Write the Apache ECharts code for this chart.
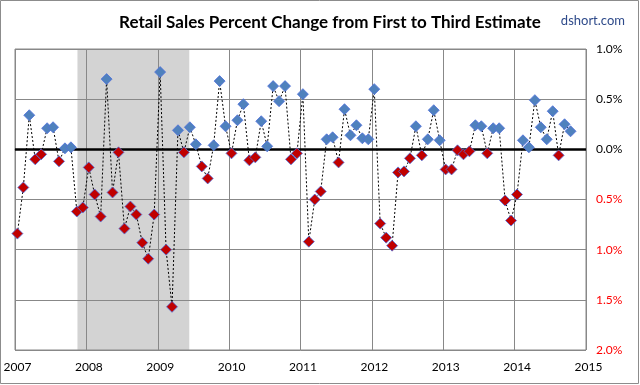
<!DOCTYPE html>
<html>
<head>
<meta charset="utf-8">
<script src="https://cdn.jsdelivr.net/npm/echarts@6/dist/echarts.min.js"></script>
<style>
html,body{margin:0;padding:0;background:#fff;}
#c{width:640px;height:385px;}
</style>
</head>
<body>
<div id="c"></div>
<script>
// Data: monthly revision (third estimate minus first), Jan 2007 .. Oct 2014
var startYear = 2007;
var yearLabels = ['2007','2008','2009','2010','2011','2012','2013','2014','2015'];
var yTicks = [-2.0, -1.5, -1.0, -0.5, 0.0, 0.5, 1.0];
var v2007 = [-0.84, -0.38, 0.34, -0.10, -0.05, 0.21, 0.22, -0.12, 0.01, 0.02, -0.62, -0.58];
var v2008 = [-0.18, -0.45, -0.67, 0.70, -0.43, -0.03, -0.79, -0.57, -0.65, -0.93, -1.09, -0.65];
var v2009 = [0.77, -1.00, -1.57, 0.19, -0.03, 0.22, 0.05, -0.17, -0.29, 0.04, 0.68, 0.23];
var v2010 = [-0.04, 0.29, 0.45, -0.11, -0.08, 0.28, 0.03, 0.63, 0.48, 0.63, -0.10, -0.04];
var v2011 = [0.55, -0.92, -0.50, -0.42, 0.10, 0.12, -0.13, 0.40, 0.14, 0.24, 0.11, 0.10];
var v2012 = [0.60, -0.74, -0.88, -0.96, -0.23, -0.22, -0.09, 0.23, -0.06, 0.10, 0.39, 0.09];
var v2013 = [-0.20, -0.20, -0.01, -0.05, -0.02, 0.24, 0.23, -0.04, 0.21, 0.21, -0.51, -0.71];
var v2014 = [-0.45, 0.09, 0.02, 0.49, 0.22, 0.10, 0.38, -0.06, 0.25, 0.18];
// Recession (NBER) span, in months since Jan 2007
var recessionSpan = [10.5, 29.3];

var values = [].concat(v2007, v2008, v2009, v2010, v2011, v2012, v2013, v2014);
var pointOffset = 0.4; // points sit a little after the month start
var seriesData = values.map(function (v, i) { return [i + pointOffset, v]; });

var chart = echarts.init(document.getElementById('c'), null, {renderer: 'canvas'});
var FONT = 'Lato, "Liberation Sans", sans-serif';
var option = {
  animation: false,
  backgroundColor: '#fff',
  title: [{
    text: 'Retail Sales Percent Change from First to Third Estimate',
    left: 325, top: 9, textAlign: 'center',
    textStyle: {fontFamily: FONT, fontWeight: 'bold', fontSize: 17, color: '#000'}
  }, {
    text: 'dshort.com',
    right: 10, top: 9,
    textStyle: {fontFamily: FONT, fontWeight: 'normal', fontSize: 13, color: '#2E4A8A'}
  }],
  graphic: [{
    type: 'rect', shape: {x: 0.5, y: 0.5, width: 638, height: 383},
    style: {fill: 'none', stroke: '#8c8c8c', lineWidth: 1}, silent: true, z: 100
  }],
  grid: {left: 15, right: 54, top: 49, bottom: 35, show: true, borderColor: '#888', borderWidth: 1},
  xAxis: {
    type: 'value', min: 0, max: 96, interval: 12,
    axisLine: {show: true, lineStyle: {color: '#888', width: 1}},
    axisTick: {show: false},
    splitLine: {show: true, lineStyle: {color: '#888', width: 1}},
    axisLabel: {
      margin: 11, color: '#000', fontFamily: FONT, fontSize: 12,
      padding: [0, 0, 0, 5],
      formatter: function (v) { return yearLabels[Math.round(v / 12)]; }
    }
  },
  yAxis: {
    type: 'value', position: 'right', min: -2, max: 1, interval: 0.5,
    axisLine: {show: false},
    axisTick: {show: true, length: 6, lineStyle: {color: '#888'}},
    splitLine: {show: true, lineStyle: {color: '#888', width: 1}},
    axisLabel: {
      margin: 10, fontFamily: FONT, fontSize: 12, align: 'left',
      color: function (v) { return Number(v) < 0 ? '#FF0000' : '#000'; },
      formatter: function (v) { return Math.abs(v).toFixed(1) + '%'; }
    }
  },
  series: [{
    type: 'line',
    data: seriesData,
    symbol: 'diamond',
    symbolSize: [11, 11],
    z: 5,
    lineStyle: {color: '#000', width: 1, type: [2, 2]},
    itemStyle: {
      color: function (p) { return p.value[1] < 0 ? '#C00000' : '#4F81BD'; },
      borderColor: function (p) { return p.value[1] < 0 ? '#8B0000' : '#2A4A70'; },
      borderWidth: 0.8
    },
    markArea: {
      silent: true,
      itemStyle: {color: '#d3d3d3', opacity: 1},
      data: [[{xAxis: recessionSpan[0]}, {xAxis: recessionSpan[1]}]],
      z: -1
    },
    markLine: {
      silent: true, symbol: 'none', label: {show: false},
      lineStyle: {color: '#000', width: 2.5, type: 'solid'},
      data: [{yAxis: 0}]
    }
  }]
};
chart.setOption(option);
</script>
</body>
</html>
